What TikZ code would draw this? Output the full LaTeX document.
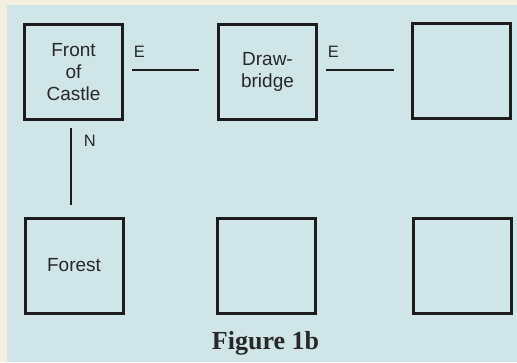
\documentclass[tikz,border=0pt]{standalone}
\usepackage{fontspec}
\setmainfont{Liberation Sans}
\newfontfamily\capfont{Liberation Serif}
\definecolor{paper}{RGB}{242,238,224}
\definecolor{bluebg}{RGB}{207,229,231}
\definecolor{ink}{RGB}{40,40,40}
\definecolor{boxink}{RGB}{28,28,28}
\begin{document}
\begin{tikzpicture}[x=1pt,y=-1pt,
  room/.style={draw=boxink,line width=3pt,minimum width=98pt,minimum height=95pt,
    inner sep=0pt,align=center,text=ink,font=\fontsize{19}{22}\selectfont},
  link/.style={draw=boxink,line width=1.6pt},
  dirlabel/.style={text=ink,font=\fontsize{16.5}{18}\selectfont,inner sep=0pt}]
\useasboundingbox (0,0) rectangle (517,362);
\fill[paper] (0,0) rectangle (517,362);
\fill[bluebg] (7,5) rectangle (517,362);
\node[room] (r1) at (73.5,72) {Front\\of\\Castle};
\node[room] (r2) at (267.5,72) {Draw-\\bridge};
\node[room] (r3) at (461,71) {};
\node[room] (r4) at (74,265.5) {Forest};
\node[room] (r5) at (266,265.5) {};
\node[room] (r6) at (462,265.5) {};
\draw[link,shorten <=8pt,shorten >=18pt] ([yshift=2pt]r1.east) -- ([yshift=2pt]r2.west)
  node[dirlabel,at start,anchor=base west,yshift=13pt,xshift=9pt] (e1) {E};
\draw[link,shorten <=8pt,shorten >=17pt] ([yshift=2pt]r2.east) -- ([yshift=1pt]r3.west)
  node[dirlabel,at start,anchor=base west,yshift=13pt,xshift=9pt] (e2) {E};
\draw[link,shorten <=7pt,shorten >=12pt] ([xshift=-2.5pt]r1.south) -- ([xshift=-3pt]r4.north)
  node[dirlabel,at start,anchor=base west,xshift=12pt,yshift=-25pt] (n1) {N};
\node[text=ink,font=\capfont\bfseries\fontsize{26}{28}\selectfont,anchor=base,inner sep=0pt] (cap) at (265.5,349) {Figure 1b};
\end{tikzpicture}
\end{document}
